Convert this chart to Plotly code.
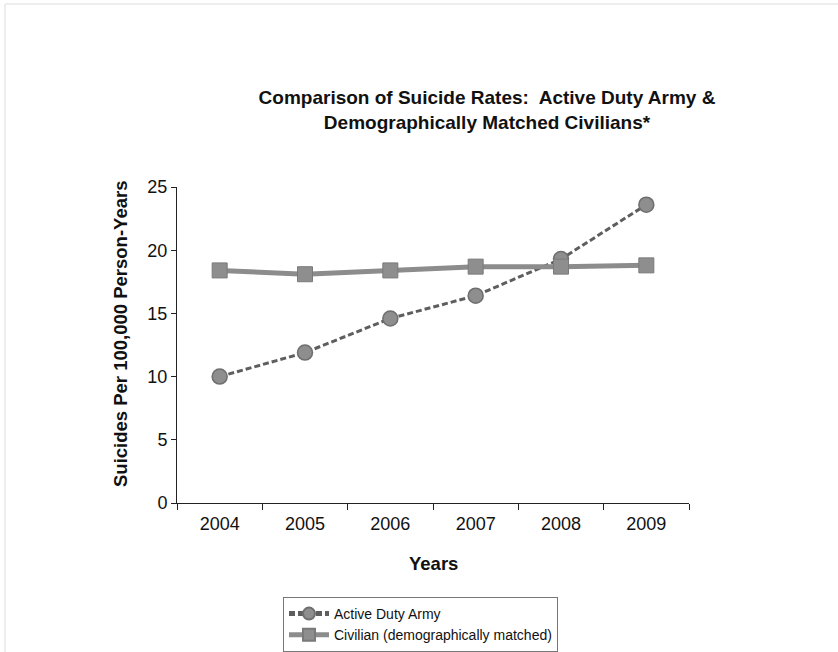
import plotly.graph_objects as go

years = ["2004", "2005", "2006", "2007", "2008", "2009"]
army = [10.0, 11.9, 14.6, 16.4, 19.3, 23.6]
civilian = [18.4, 18.1, 18.4, 18.7, 18.7, 18.8]
y_ticks = [0, 5, 10, 15, 20, 25]

FONT = "Liberation Sans, Arial, sans-serif"
W, H = 838, 652

fig = go.Figure()
fig.add_trace(go.Scatter(
    x=years, y=army, name="Active Duty Army", mode="lines+markers",
    line=dict(color="#5e5e5e", width=3, dash="6px,3px"),
    marker=dict(symbol="circle", size=15, color="#8e8e8e", line=dict(color="#6e6e6e", width=1.5)),
))
fig.add_trace(go.Scatter(
    x=years, y=civilian, name="Civilian (demographically matched)", mode="lines+markers",
    line=dict(color="#8c8c8c", width=5),
    marker=dict(symbol="square", size=15, color="#8e8e8e", line=dict(color="#7a7a7a", width=1)),
))

fig.update_layout(
    width=W, height=H,
    margin=dict(l=177, r=149, t=187, b=149, autoexpand=False),
    paper_bgcolor="white", plot_bgcolor="white",
    font=dict(family=FONT, color="#111", size=18),
    title=dict(
        text="<b>Comparison of Suicide Rates:  Active Duty Army &<br>Demographically Matched Civilians*</b>",
        x=487/W, xanchor="center", y=1-104/H, yanchor="top",
        xref="container", yref="container",
        font=dict(family=FONT, size=19, color="#111"),
    ),
    xaxis=dict(
        type="category", tickson="boundaries", ticks="outside", ticklen=6,
        tickcolor="#222", showline=True, linecolor="#222", linewidth=1,
        showgrid=False, tickfont=dict(size=18), range=[-0.5, 5.5],
        ticklabelstandoff=4,
    ),
    yaxis=dict(
        range=[0, 25], tickvals=y_ticks, ticks="outside", ticklen=5,
        tickcolor="#222", showline=True, linecolor="#222", linewidth=1,
        showgrid=False, zeroline=False, tickfont=dict(size=18),
    ),
    showlegend=True,
    legend=dict(
        xref="container", yref="container",
        x=283/W, xanchor="left", y=1-597/H, yanchor="top",
        bordercolor="#777", borderwidth=1, bgcolor="white",
        font=dict(size=14, color="#111"), tracegroupgap=0, itemwidth=40,
        itemsizing="constant",
    ),
    annotations=[
        dict(text="<b>Suicides Per 100,000 Person-Years</b>", xref="paper", yref="paper",
             x=(120-177)/512, y=(503-334)/316, xanchor="center", yanchor="middle",
             textangle=-90, showarrow=False, font=dict(size=18.5, family=FONT, color="#111")),
        dict(text="<b>Years</b>", xref="paper", yref="paper",
             x=0.5, y=(503-563)/316, xanchor="center", yanchor="middle",
             showarrow=False, font=dict(size=18.5, family=FONT, color="#111")),
    ],
    shapes=[
        dict(type="rect", xref="paper", yref="paper",
             x0=(5-177)/512, x1=(900-177)/512, y0=(503-700)/316, y1=(503-4)/316,
             line=dict(color="#dddddd", width=1), fillcolor="rgba(0,0,0,0)", layer="below"),
    ],
)

fig.write_html("out.html", config={"displayModeBar": False},
               post_script="document.body.style.margin='0';")
